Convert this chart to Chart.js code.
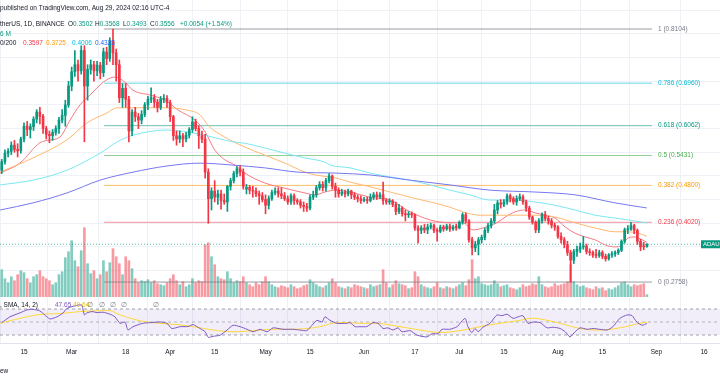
<!DOCTYPE html>
<html><head><meta charset="utf-8">
<script src="https://cdn.jsdelivr.net/npm/chart.js@4.4.1/dist/chart.umd.min.js"></script>
<style>html,body{margin:0;padding:0;background:#fff;overflow:hidden}#wrap{width:720px;height:380px;position:relative}</style>
</head><body><div id="wrap"><canvas id="c" width="720" height="380"></canvas></div>
<script>
// ---------- DATA ----------
// day index: 0 = 2024-02-15 ; first candle = 2024-02-08 (day -7), last = 2024-08-29 (day 196)
const firstDay = -7;
const opens = [
.512,.530,.548,.552,.565,.556,.553,
.578,.605,.598,.604,.620,.635,.626,.600,.588,.585,.592,.600,.618,.628,.650,.690,.720,.735,.722,.765,
.690,.725,.735,.722,.734,.718,.762,.748,.785,.760,.735,.665,.685,.662,.595,.635,.625,.618,.630,.650,
.662,.665,.656,.645,.662,.664,.655,.625,.585,.578,.585,.578,.586,.598,.614,.600,.585,.578,.508,.452,
.468,.455,.462,.448,.445,.478,.490,.505,.515,.508,.472,.476,.470,.468,.462,.458,.450,.438,.452,.465,
.468,.462,.458,.452,.445,.458,.448,.445,.438,.435,.432,.455,.460,.475,.482,.475,.490,.500,.478,.470,
.462,.466,.462,.468,.460,.455,.452,.448,.450,.448,.455,.460,.456,.460,.448,.445,.447,.440,.425,.432,
.420,.418,.420,.418,.390,.385,.390,.386,.392,.395,.385,.383,.392,.388,.394,.388,.394,.390,.402,.418,
.405,.365,.348,.356,.365,.370,.385,.395,.405,.428,.443,.440,.445,.458,.452,.445,.452,.456,.445,.432,
.413,.402,.386,.405,.418,.410,.405,.396,.392,.372,.365,.355,.338,.322,.340,.345,.350,.352,.340,.338,
.333,.332,.338,.330,.325,.333,.335,.338,.343,.362,.386,.388,.395,.385,.362,.352,.3502];
const highs = [
.535,.555,.558,.572,.575,.568,.582,
.612,.615,.610,.625,.640,.645,.630,.605,.595,.598,.606,.624,.640,.660,.700,.730,.765,.745,.775,.775,
.735,.745,.742,.742,.740,.770,.772,.792,.8104,.768,.745,.695,.695,.668,.640,.645,.632,.638,.655,.668,
.686,.672,.662,.668,.672,.670,.660,.628,.595,.595,.590,.592,.602,.625,.620,.606,.595,.588,.515,.475,
.490,.470,.470,.462,.480,.495,.510,.520,.522,.515,.482,.480,.478,.475,.468,.465,.460,.458,.470,.475,
.475,.475,.465,.458,.462,.462,.452,.450,.445,.442,.460,.468,.480,.488,.488,.495,.505,.502,.485,.475,
.472,.470,.472,.470,.465,.460,.458,.455,.455,.462,.465,.466,.465,.487,.452,.452,.450,.445,.440,.435,
.428,.425,.424,.420,.395,.395,.398,.398,.400,.398,.390,.396,.396,.398,.398,.396,.398,.405,.422,.422,
.408,.370,.362,.370,.375,.390,.400,.410,.440,.448,.450,.450,.462,.462,.456,.458,.462,.460,.449,.436,
.415,.405,.410,.422,.425,.415,.410,.400,.395,.380,.370,.362,.343,.345,.352,.358,.372,.356,.346,.342,
.345,.343,.342,.335,.336,.340,.342,.346,.365,.390,.395,.402,.398,.388,.366,.360,.3568];
const lows = [
.505,.525,.540,.545,.550,.540,.548,
.572,.585,.580,.596,.612,.610,.590,.578,.570,.575,.586,.590,.612,.605,.645,.680,.710,.700,.715,.572,
.660,.715,.700,.712,.705,.710,.735,.742,.735,.700,.655,.645,.645,.572,.585,.615,.600,.610,.625,.640,
.655,.645,.635,.640,.655,.645,.615,.575,.565,.570,.562,.572,.580,.592,.595,.558,.570,.495,.400,.428,
.445,.440,.430,.440,.425,.470,.485,.498,.500,.472,.462,.462,.455,.456,.440,.445,.420,.430,.448,.460,
.455,.452,.448,.440,.440,.440,.440,.432,.425,.425,.428,.450,.455,.470,.468,.468,.485,.472,.455,.455,
.458,.455,.458,.452,.450,.445,.442,.445,.442,.445,.450,.450,.452,.440,.440,.440,.435,.418,.420,.415,
.405,.412,.412,.385,.358,.378,.380,.378,.388,.380,.362,.380,.383,.385,.383,.385,.385,.388,.398,.400,
.360,.333,.340,.333,.358,.365,.380,.390,.400,.420,.432,.435,.440,.445,.440,.438,.448,.440,.425,.408,
.398,.380,.380,.400,.405,.398,.390,.385,.368,.358,.348,.332,.2758,.315,.330,.338,.345,.335,.332,.328,
.327,.328,.325,.320,.322,.328,.330,.334,.340,.358,.378,.385,.378,.355,.342,.344,.3493];
const closes = [
.530,.548,.552,.565,.556,.553,.578,
.605,.598,.604,.620,.635,.626,.600,.588,.585,.592,.600,.618,.628,.650,.690,.720,.735,.722,.765,.690,
.725,.735,.722,.734,.718,.762,.748,.785,.760,.735,.665,.685,.662,.595,.635,.625,.618,.630,.650,.662,
.665,.656,.645,.662,.664,.655,.625,.585,.578,.585,.578,.586,.598,.614,.600,.585,.578,.508,.452,.468,
.455,.462,.448,.445,.478,.490,.505,.515,.508,.478,.476,.470,.468,.462,.458,.450,.438,.452,.465,.468,
.462,.458,.452,.445,.458,.448,.445,.438,.435,.432,.455,.460,.475,.482,.475,.490,.500,.478,.470,.462,
.466,.462,.468,.460,.455,.452,.448,.450,.448,.455,.460,.456,.460,.448,.445,.447,.440,.425,.432,.420,
.418,.420,.418,.390,.385,.390,.386,.392,.395,.385,.383,.392,.388,.394,.388,.392,.390,.402,.418,.405,
.365,.348,.356,.365,.370,.385,.395,.405,.428,.443,.440,.445,.458,.452,.445,.452,.456,.445,.432,.413,
.402,.386,.405,.418,.410,.405,.396,.392,.372,.365,.355,.338,.322,.340,.345,.350,.352,.340,.338,.333,
.332,.338,.330,.325,.333,.335,.338,.343,.362,.386,.388,.395,.385,.362,.350,.3502,.3556];
// volume (millions)
const volumes = [
675,450,350,500,400,550,650,
600,450,350,500,550,650,500,450,400,300,350,550,625,
975,1125,1400,900,750,1150,1725,825,575,650,450,550,900,625,850,1200,1000,825,550,1000,900,
700,450,350,400,375,425,350,400,325,300,275,350,450,550,400,300,375,250,300,450,350,400,375,
1300,1350,1000,800,500,450,425,625,450,350,400,375,500,350,300,250,350,300,375,500,375,300,250,225,
275,250,225,300,250,200,225,275,300,425,350,300,250,225,275,350,450,350,250,225,200,250,225,300,275,250,
225,200,300,250,275,300,675,350,225,300,400,325,300,275,200,225,625,500,300,250,225,200,250,350,
225,200,250,225,200,250,300,350,275,425,925,450,500,325,300,275,300,400,325,250,275,300,225,200,175,
225,300,250,275,325,300,500,300,250,225,250,325,275,300,325,375,800,375,300,250,275,225,200,175,250,
200,225,150,200,175,225,275,350,375,300,250,300,275,300,325,50];

// moving averages [day, value]
const ma20 = [[-7.5,0.506],[-1.3,0.527],[5,0.570],[8.2,0.576],[11.3,0.582],[14.5,0.618],[17.6,0.650],[20.8,0.671],[23.9,0.692],[26,0.703],[28.6,0.709],[31.8,0.698],[34.3,0.681],[39.6,0.671],[44.4,0.660],[48.5,0.639],[53.8,0.618],[57,0.593],[60,0.555],[63.2,0.534],[66.4,0.523],[69.5,0.506],[75.8,0.485],[82.1,0.474],[88.4,0.464],[91.6,0.460],[94.7,0.466],[97.9,0.470],[102.6,0.466],[108.9,0.455],[115.2,0.449],[121.5,0.424],[127.8,0.407],[134,0.401],[138.1,0.401],[141.3,0.386],[144.4,0.390],[148.8,0.401],[151.4,0.413],[154.5,0.424],[157.7,0.428],[160.8,0.422],[164,0.417],[167.1,0.411],[170.3,0.392],[173.4,0.379],[176.6,0.371],[179.7,0.365],[182.9,0.354],[186,0.350],[188.2,0.354],[190.1,0.369],[192.3,0.371],[194.5,0.365],[196,0.3597]];
const ma50 = [[-7.5,0.508],[2.8,0.538],[13.5,0.576],[19.8,0.612],[26.1,0.633],[29.3,0.644],[34.3,0.644],[45,0.644],[51.3,0.639],[55.4,0.629],[58,0.606],[63.2,0.582],[69.5,0.561],[75.8,0.544],[82.1,0.527],[88.4,0.508],[91.6,0.502],[97.9,0.496],[102.6,0.487],[108.9,0.477],[115.2,0.466],[121.5,0.455],[127.8,0.445],[134,0.434],[138.1,0.424],[143.5,0.417],[148.8,0.417],[154.5,0.417],[160.8,0.417],[167.1,0.413],[173.4,0.401],[179.7,0.390],[186,0.382],[190.1,0.382],[193.2,0.379],[196,0.3725]];
const ma100 = [[-7.5,0.481],[2.8,0.491],[13.5,0.512],[23.9,0.548],[29.3,0.572],[34.3,0.586],[45,0.597],[55.4,0.588],[65.8,0.572],[69.5,0.569],[75.8,0.559],[82.1,0.548],[88.4,0.538],[94.7,0.529],[96.3,0.523],[102.6,0.517],[108.9,0.506],[115.2,0.498],[121.5,0.491],[127.8,0.481],[134,0.470],[140.3,0.460],[146.6,0.449],[154.5,0.449],[160.8,0.445],[167.1,0.438],[173.4,0.428],[179.7,0.417],[186,0.411],[190.1,0.407],[196,0.4006]];
const ma200 = [[-7.5,0.428],[2.8,0.443],[13.5,0.464],[23.9,0.491],[34.3,0.508],[45,0.521],[55.4,0.527],[65.4,0.523],[75.8,0.517],[86.2,0.508],[97.9,0.506],[108.9,0.502],[121.5,0.491],[134,0.481],[146.6,0.470],[160.8,0.466],[173.4,0.460],[186,0.443],[196,0.4323]];

// RSI(14) and its SMA [day, value]
const rsi = [[-7,49],[-4.4,58],[-1.3,64],[0.9,68.5],[2.8,69.5],[5,67],[7.2,58],[8.2,54.6],[10.4,58],[12.3,64],[13.5,71],[15.1,73.6],[17,76],[18.2,76],[19,61],[19.8,64],[21.4,66],[23,64.5],[24.9,65],[27.1,62],[28.6,58],[30.2,48],[31.8,50],[32.7,37.7],[34.3,42.8],[37.4,48],[39.6,49],[42.8,50],[45,48],[46.5,40],[49.1,42.8],[51.6,43],[53.2,46],[55.4,40],[57,35],[58,26.4],[59.5,28],[61.7,29.7],[63.9,37.7],[65.8,45],[68,42.8],[70.2,38.8],[72.1,35],[74.3,38.8],[76.5,35],[78.4,41],[81.5,38.8],[84.6,38.8],[86.8,37.7],[89,36.7],[90.6,45],[92.2,52.6],[93.8,50],[94.7,58],[96.3,52.6],[98.5,48],[101.6,48],[102.6,49],[104.2,42.8],[105.7,42.8],[107.9,43],[109.8,49],[111.4,48],[113,40],[114.5,41],[116.1,37.7],[117.7,41],[118.9,35],[121.5,36.7],[123.7,29.7],[126.8,27],[128.4,32],[130.3,32],[131.5,38.8],[134,38.8],[136.3,42.8],[137.2,48],[138.8,55.6],[139.7,42.8],[140.9,33.5],[141.9,40],[142.9,35],[144.4,41.9],[146.6,48],[148.8,60.8],[150.4,59.7],[152,62],[153.9,55.6],[155.5,58],[157,59.7],[158.6,48],[160.2,50],[162.4,49],[164.6,41],[166.5,42],[168.7,40],[170.3,35],[171.8,27],[173.4,35],[175,41],[177.2,38.8],[179,40],[181.2,38.8],[183.5,37.7],[185.3,42.8],[187.5,55.6],[189.7,60.8],[191.3,60],[192.8,50],[194.5,45],[196,47.65]];
const rsiSma = [[-7.5,48],[-1.3,55.6],[5,61.5],[11.3,63],[17.6,66],[23.9,67.4],[27.1,67.4],[30.2,61],[34.3,54.6],[38.7,50],[42.8,48],[49.1,45.5],[55.4,41],[59.5,37.7],[65.8,35],[72.1,36.7],[78.4,38.8],[84.6,38.8],[89,40],[93.1,42.8],[97.2,48],[101.6,49],[105.7,48],[112,47.5],[118.3,42.8],[124.6,37.7],[130.9,34],[137.2,36.7],[143.5,42.8],[149.8,48],[156.1,52.6],[159.2,55.6],[162.4,54.6],[168.7,48],[175,40],[181.2,37.7],[187.5,41],[193.8,48],[196,49.6]];

// Fibonacci retracement levels
const fibRatios = ['1','0.786','0.618','0.5','0.382','0.236','0'];
const fibPrices = [0.8104,0.6960,0.6062,0.5431,0.4800,0.4020,0.2758];
const fibRange = [25.2, 197.6]; // day span of the drawing
const lastPrice = 0.3556;

// time axis
const tickDays = [0,15,32,46,60,76,90,107,123,137,151,168,182,199,214];
const tickLabels = ['15','Mar','18','Apr','15','May','15','Jun','17','Jul','15','Aug','15','Sep','16'];
const priceGrid = [0.30,0.35,0.40,0.45,0.50,0.55,0.60,0.65,0.70,0.75,0.80,0.85];

// ---------- STYLE ----------
const FONT = "'Liberation Sans', Arial, sans-serif";
const UP = '#089981', DOWN = '#f23645';
const UPV = 'rgba(8,153,129,0.5)', DOWNV = 'rgba(242,54,69,0.5)';
const fibColors = ['#787b86','#00bcd4','#089981','#4caf50','#ff9800','#f23645','#787b86'];
const fibLineColors = ['rgba(120,123,134,0.75)','rgba(0,188,212,0.6)','rgba(8,153,129,0.6)','rgba(76,175,80,0.6)','rgba(255,152,0,0.6)','rgba(242,54,69,0.55)','rgba(120,123,134,0.75)'];
const GRID = '#eef1f6';
const X_MIN = -7.55, X_MAX = 219.0;

const days = opens.map((_, i) => firstDay + i);
const colOf = (i, a, b) => closes[i] >= opens[i] ? a : b;
const pts = arr => arr.map(p => ({x: p[0], y: p[1]}));
const flat = (v) => [{x: X_MIN, y: v}, {x: X_MAX, y: v}];

const datasets = [];
// volume
datasets.push({type:'bar', yAxisID:'yVol', order:60, grouped:false, barThickness:2,
  data: days.map((d,i)=>({x:d, y:volumes[i]})),
  backgroundColor: days.map((d,i)=>colOf(i, UPV, DOWNV))});
// RSI band and levels
datasets.push({type:'line', yAxisID:'yRsi', order:55, data: flat(70), borderColor:'rgba(120,123,134,0.7)', borderWidth:1, borderDash:[3,3], pointRadius:0, fill:{value:30}, backgroundColor:'rgba(126,87,194,0.1)'});
datasets.push({type:'line', yAxisID:'yRsi', order:54, data: flat(50), borderColor:'rgba(120,123,134,0.5)', borderWidth:1, borderDash:[3,3], pointRadius:0});
datasets.push({type:'line', yAxisID:'yRsi', order:54, data: flat(30), borderColor:'rgba(120,123,134,0.7)', borderWidth:1, borderDash:[3,3], pointRadius:0});
datasets.push({type:'line', yAxisID:'yRsi', order:52, data: pts(rsiSma), borderColor:'#fdd835', borderWidth:1, pointRadius:0, tension:0.4});
datasets.push({type:'line', yAxisID:'yRsi', order:51, data: pts(rsi), borderColor:'#7e57c2', borderWidth:1, pointRadius:0, tension:0.2});
// fib levels
fibPrices.forEach((p,k)=>{
  datasets.push({type:'line', yAxisID:'y', order:40, data:[{x:fibRange[0],y:p},{x:fibRange[1],y:p}], borderColor:fibLineColors[k], borderWidth:1, pointRadius:0});
});
// last price dotted line
datasets.push({type:'line', yAxisID:'y', order:35, data: flat(lastPrice), borderColor:'rgba(8,153,129,0.7)', borderWidth:1, borderDash:[1,2], pointRadius:0});
// moving averages
[[ma200,'#7777f2'],[ma100,'#7ae8f2'],[ma50,'#ffb870'],[ma20,'#f57a82']].forEach(([m,c],k)=>{
  datasets.push({type:'line', yAxisID:'y', order:20+k, data: pts(m), borderColor:c, borderWidth:1, pointRadius:0, cubicInterpolationMode:'monotone'});
});
// candles: wicks then bodies
datasets.push({type:'bar', yAxisID:'y', order:2, grouped:false, barThickness:1,
  data: days.map((d,i)=>({x:d, y:[lows[i], highs[i]]})),
  backgroundColor: days.map((d,i)=>colOf(i, UP, DOWN))});
datasets.push({type:'bar', yAxisID:'y', order:1, grouped:false, barThickness:2, minBarLength:1,
  data: days.map((d,i)=>({x:d, y:[opens[i], closes[i]]})),
  backgroundColor: days.map((d,i)=>colOf(i, UP, DOWN))});

function txt(ctx, s, x, y, color, size, align) {
  ctx.fillStyle = color; ctx.font = (size||6.5) + 'px ' + FONT;
  ctx.textAlign = align || 'left'; ctx.textBaseline = 'middle'; ctx.fillText(s, x, y);
  return ctx.measureText(s).width;
}

const overlay = {
  id: 'overlay',
  afterDatasetsDraw(chart) {
    const ctx = chart.ctx, xs = chart.scales.x, ys = chart.scales.y;
    ctx.save();
    fibPrices.forEach((p,k)=>{
      txt(ctx, fibRatios[k] + ' (' + p.toFixed(4) + ')', xs.getPixelForValue(fibRange[1]) + 6, ys.getPixelForValue(p), fibColors[k]);
    });
    const yl = ys.getPixelForValue(lastPrice);
    ctx.fillStyle = UP; ctx.fillRect(701, yl - 4, 19, 8);
    txt(ctx, 'ADAUSDT', 703, yl, '#ffffff', 6);
    ctx.restore();
  },
  afterDraw(chart) {
    const ctx = chart.ctx; ctx.save();
    const dark = '#131722', gray = '#787b86';
    txt(ctx, 'published on TradingView.com, Aug 29, 2024 02:16 UTC-4', 0, 8, dark);
    txt(ctx, 'therUS, 1D, BINANCE', 0, 24, dark);
    const ohlc = [['O','0.3502',68],['H','0.3568',95],['L','0.3493',123],['C','0.3556',150]];
    ohlc.forEach(([k,v,x])=>{ const w = txt(ctx, k, x, 24, dark); txt(ctx, v, x + w, 24, UP); });
    txt(ctx, '+0.0054 (+1.54%)', 180, 24, UP);
    txt(ctx, '6 M', 0, 34, UP);
    txt(ctx, '0/200', 0, 43, dark);
    txt(ctx, '0.3597', 23, 43, '#f23645');
    txt(ctx, '0.3725', 46, 43, '#ff9800');
    txt(ctx, '0.4006', 72, 43, '#00bcd4');
    txt(ctx, '0.4323', 95, 43, '#2962ff');
    txt(ctx, ', SMA, 14, 2)', 0, 305, dark);
    txt(ctx, '47.65', 55, 305, '#7e57c2');
    txt(ctx, '49.64', 73, 305, '#e6c200');
    [87,99,110,121,153].forEach(x=>txt(ctx, '\u2205', x, 305, gray));
    txt(ctx, 'ew', 0, 371, dark);
    ctx.restore();
  }
};

new Chart(document.getElementById('c'), {
  type: 'bar',
  data: { datasets },
  options: {
    responsive: false, animation: false, devicePixelRatio: 1, events: [],
    layout: { padding: 0 },
    plugins: { legend: {display:false}, tooltip: {enabled:false} },
    scales: {
      x: { type:'linear', min:X_MIN, max:X_MAX, offset:false,
        grid: { color: GRID, drawTicks:false },
        border: { display:true, color:'#e0e3eb' },
        ticks: { autoSkip:false, maxRotation:0, padding:5, color:'#131722', font:{family:FONT, size:6.5},
          callback: v => { const k = tickDays.indexOf(v); return k >= 0 ? tickLabels[k] : ''; } },
        afterBuildTicks: ax => { ax.ticks = tickDays.map(v => ({value:v})); },
        afterFit: ax => { ax.height = 37; } },
      y: { type:'linear', position:'right', min:0.1470, max:0.8717,
        grid: { color: GRID, drawTicks:false }, border: { display:false },
        ticks: { display:false },
        afterBuildTicks: ax => { ax.ticks = priceGrid.map(v => ({value:v})); },
        afterFit: ax => { ax.width = 0; } },
      yVol: { type:'linear', display:false, min:-1157.5, max:7417.5 },
      yRsi: { type:'linear', display:false, min:17.7, max:545.4 }
    }
  },
  plugins: [overlay]
});
</script>
</body></html>
